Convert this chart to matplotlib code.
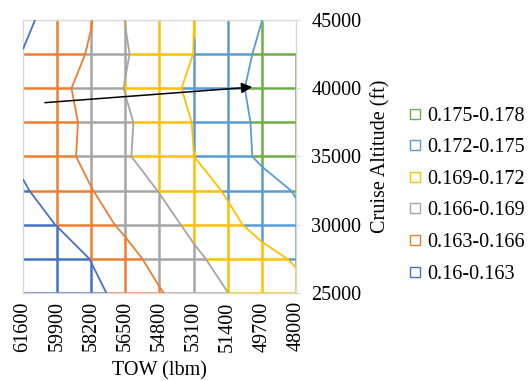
import numpy as np
import matplotlib
matplotlib.use("Agg")
import matplotlib.pyplot as plt
from matplotlib.collections import LineCollection
from matplotlib.lines import Line2D

plt.rcParams['font.family'] = ['Liberation Serif', 'DejaVu Serif']

# data
tow = [61600, 59900, 58200, 56500, 54800, 53100, 51400, 49700, 48000]
altitude = [25000, 27500, 30000, 32500, 35000, 37500, 40000, 42500, 45000]
sfc = [
    [0.1602, 0.1614, 0.1622, 0.1640, 0.1658, 0.1674, 0.16898, 0.1703, 0.1711],  # 25000
    [0.1602, 0.1612, 0.1631, 0.1651, 0.1669, 0.1685, 0.1699, 0.1711, 0.1723],   # 27500
    [0.1614, 0.1631, 0.1649, 0.1665, 0.1680, 0.1696, 0.1713, 0.1729, 0.1743],   # 30000
    [0.1627, 0.1643, 0.1659, 0.1675, 0.1691, 0.1707, 0.1723, 0.1738, 0.1752],   # 32500
    [0.1636, 0.1650, 0.1668, 0.1687, 0.1704, 0.17198, 0.1737, 0.1755, 0.1772],  # 35000
    [0.1631, 0.1649, 0.1667, 0.1686, 0.1703, 0.1721, 0.1738, 0.1756, 0.1774],   # 37500
    [0.1635, 0.1652, 0.1671, 0.1691, 0.1709, 0.1726, 0.1742, 0.1758, 0.1774],   # 40000
    [0.1631, 0.1646, 0.1663, 0.1688, 0.1704, 0.17202, 0.1737, 0.1755, 0.1772],  # 42500
    [0.1624, 0.1641, 0.1659, 0.16905, 0.1705, 0.17198, 0.1735, 0.17498, 0.1765],  # 45000
]
levels = [0.160, 0.163, 0.166, 0.169, 0.172, 0.175, 0.178]
band_labels = ['0.16-0.163', '0.163-0.166', '0.166-0.169',
               '0.169-0.172', '0.172-0.175', '0.175-0.178']
band_colors = ['#4472C4', '#ED7D31', '#A5A5A5', '#FFC000', '#5B9BD5', '#70AD47']

Z = np.array(sfc)
xi = np.arange(len(tow))
X, Y = np.meshgrid(xi, altitude)


def split_segment(p0, p1, v0, v1):
    """cut a grid segment where it crosses a band edge, colour each piece"""
    ts = [0.0, 1.0]
    for lv in levels[1:-1]:
        if (v0 - lv) * (v1 - lv) < 0:
            ts.append((lv - v0) / (v1 - v0))
    ts.sort()
    out = []
    for a, b in zip(ts[:-1], ts[1:]):
        mid = v0 + (a + b) / 2 * (v1 - v0)
        k = int(np.clip(np.searchsorted(levels, mid) - 1, 0, len(band_colors) - 1))
        pa = (p0[0] + a * (p1[0] - p0[0]), p0[1] + a * (p1[1] - p0[1]))
        pb = (p0[0] + b * (p1[0] - p0[0]), p0[1] + b * (p1[1] - p0[1]))
        out.append(([pa, pb], band_colors[k]))
    return out


fig = plt.figure(figsize=(5.3, 3.81), dpi=100)
ax = fig.add_axes([0.0434, 0.231, 0.515, 0.7165])

segs, cols = [], []
ny, nx = Z.shape
# horizontal wires (top row is left as plain border)
for j in range(ny - 1):
    for i in range(nx - 1):
        for s, c in split_segment((xi[i], altitude[j]), (xi[i + 1], altitude[j]), Z[j, i], Z[j, i + 1]):
            segs.append(s)
            cols.append(c)
# vertical wires (first column is left as plain border)
for i in range(1, nx):
    top = ny - 1 if i < nx - 1 else ny - 2
    for j in range(top):
        for s, c in split_segment((xi[i], altitude[j]), (xi[i], altitude[j + 1]), Z[j, i], Z[j + 1, i]):
            segs.append(s)
            cols.append(c)

ax.add_collection(LineCollection(segs, colors=cols, linewidths=1.8, zorder=2))
ax.contour(X, Y, Z, levels=levels[1:-1], colors=band_colors[:5], linewidths=1.3, zorder=3)

ax.annotate('', xy=(6.8, 40100), xytext=(0.56, 38930),
            arrowprops=dict(arrowstyle='-|>', mutation_scale=16, lw=1.1, color='black'),
            zorder=5)

ax.set_xlim(0, 8)
ax.set_ylim(25000, 45000)
ax.set_xticks(xi)
ax.set_xticklabels([str(t) for t in tow], rotation=90, fontsize=14.5)
ax.set_yticks([25000, 30000, 35000, 40000, 45000])
ax.yaxis.tick_right()
ax.yaxis.set_label_position('right')
ax.tick_params(axis='y', labelsize=14.5, length=3, color='#D9D9D9', pad=8)
ax.tick_params(axis='x', length=0, pad=6)
for sp in ax.spines.values():
    sp.set_color('#D9D9D9')
    sp.set_linewidth(1.0)
ax.set_xlabel('TOW (lbm)', fontsize=14.5, labelpad=7)
ax.set_ylabel('Cruise Altitude (ft)', fontsize=14.5, labelpad=7)

handles = [Line2D([], [], linestyle='none', marker='s', markersize=7,
                  markerfacecolor='white', markeredgecolor=c, markeredgewidth=1.0)
           for c in band_colors]
fig.legend(handles[::-1], band_labels[::-1], loc='center left',
           bbox_to_anchor=(0.768, 0.488), frameon=False, fontsize=14.5,
           handlelength=0.8, handletextpad=0.2, labelspacing=0.62,
           borderpad=0, borderaxespad=0)

fig.savefig('out.png', dpi=100, facecolor='white')
